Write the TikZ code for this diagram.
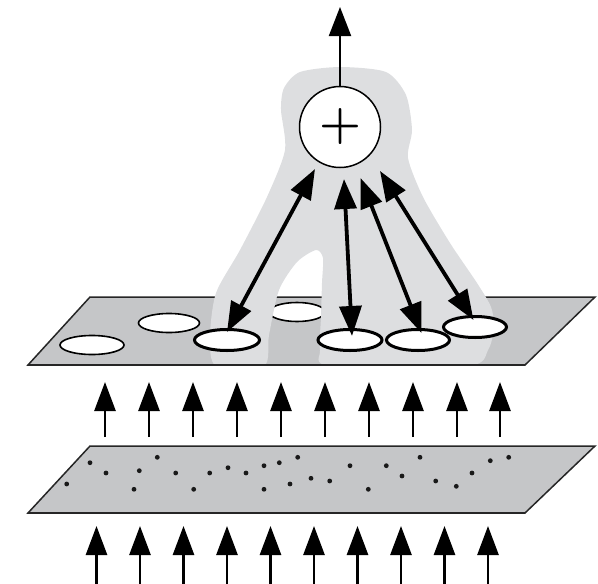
\documentclass[tikz,border=0pt]{standalone}
\usetikzlibrary{arrows.meta,shapes.geometric,calc}
\definecolor{planegray}{RGB}{197,198,200}
\definecolor{halogray}{RGB}{221,222,224}
\begin{document}
\begin{tikzpicture}[x=1pt,y=-1pt,
  plane/.style={fill=planegray,draw=black!85,line width=1.5pt,line join=miter},
  thinell/.style={ellipse,draw=black,fill=white,line width=1.6pt,inner sep=0pt},
  thickell/.style={ellipse,draw=black,fill=white,line width=3pt,inner sep=0pt},
  sumnode/.style={circle,draw=black,fill=white,line width=1.5pt,minimum size=81pt,inner sep=0pt,font=\fontsize{48}{48}\selectfont\bfseries},
  dbl/.style={line width=3.8pt,{Triangle[length=30pt,width=22pt]}-{Triangle[length=30pt,width=22pt]}},
  uparrow/.style={line width=2.6pt,-{Triangle[length=29pt,width=21pt]}},
  outarrow/.style={line width=2pt,-{Triangle[length=29pt,width=22pt]}},
  dot/.style={fill=black!90}
]
\useasboundingbox (0,0) rectangle (598,584);

% upper plane
\draw[plane] (90,297) -- (595,297) -- (525,365) -- (28,365) -- cycle;
\draw[line width=2.4pt,black!85] (28,365) -- (525,365);

% thin ellipses (under halo)
\node[thinell,minimum width=64pt,minimum height=19pt] (e1) at (92,345) {};
\node[thinell,minimum width=61pt,minimum height=19pt] (e2) at (169,323) {};
\node[thinell,minimum width=56pt,minimum height=19pt] (e4) at (297,312) {};

% halo
\begin{scope}
\clip (0,0) rectangle (598,363.3);
\fill[halogray] plot[smooth cycle,tension=0.45] coordinates {
 (300,72) (340,67) (386,72) (406,95) (412,130) (408,158) (423,197)
 (450,243) (477,283) (491,307) (494,328) (488,350) (468,366)
 (330,366) (320,350) (321,317) (322,283) (323,258) (316,250)
 (297,262) (279,290) (269,335) (264,366) (216,366) (210,337)
 (216,293) (240,250) (267,197) (285,150) (281,110) (284,88)};
\end{scope}

% thick ellipses
\node[thickell,minimum width=65pt,minimum height=21pt] (e3) at (227,340) {};
\node[thickell,minimum width=64pt,minimum height=21pt] (e5) at (350,340) {};
\node[thickell,minimum width=63pt,minimum height=21pt] (e6) at (418,340) {};
\node[thickell,minimum width=63pt,minimum height=21pt] (e7) at (475,327) {};

% summing node
\node[sumnode] (sum) at (340,127) {+};

% tips of the double arrows
\coordinate (a1) at (315,169);
\coordinate (b1) at ($(e3.center)+(0,-8)$);
\coordinate (a2) at (344,179);
\coordinate (b2) at ($(e5.center)+(2,-4)$);
\coordinate (a3) at (360.5,178);
\coordinate (b3) at ($(e6.center)+(3.5,-7)$);
\coordinate (a4) at (380,171);
\coordinate (b4) at ($(e7.center)+(-1.5,-7)$);
\draw[dbl] (a1) -- (b1);
\draw[dbl] (a2) -- (b2);
\draw[dbl] (a3) -- (b3);
\draw[dbl] (a4) -- (b4);

% output arrow
\coordinate (out) at (340,7);
\draw[outarrow] (sum.north) -- (out);

% middle arrows
\foreach \x [count=\i] in {105,149,193,237,281,325,369,413,457,500}{
  \coordinate (mb\i) at (\x,437);
  \coordinate (mt\i) at (\x,382);
  \draw[uparrow] (mb\i) -- (mt\i);
}

% lower plane
\draw[plane] (90,446) -- (595,446) -- (525,513) -- (28,513) -- cycle;
\draw[line width=2.4pt,black!85] (28,513) -- (525,513);
\foreach \px/\py in {66.7/484,90/462.7,106/473,134/489.3,139.3/470.7,157.3/457.3,
  175.7/473,193.7/489.3,209.7/473,228/467.7,246/473,264/465.7,264/489.3,
  279.3/462.7,290/484,297.7/457.3,311/478.3,329.7/481,350/465.7,368.3/489.3,
  386.3/465.7,402/476,420/457.3,435.7/481,456.3/486.3,472/473,490.3/460.7,508.7/457.3}{
  \fill[dot] (\px,\py) circle (2.4pt);
}

% bottom arrows
\foreach \x [count=\i] in {96.5,140,183.5,227,270.5,314,357.5,401,444.5,488}{
  \coordinate (lb\i) at (\x,586);
  \coordinate (lt\i) at (\x,526);
  \draw[uparrow] (lb\i) -- (lt\i);
}
\end{tikzpicture}
\end{document}
